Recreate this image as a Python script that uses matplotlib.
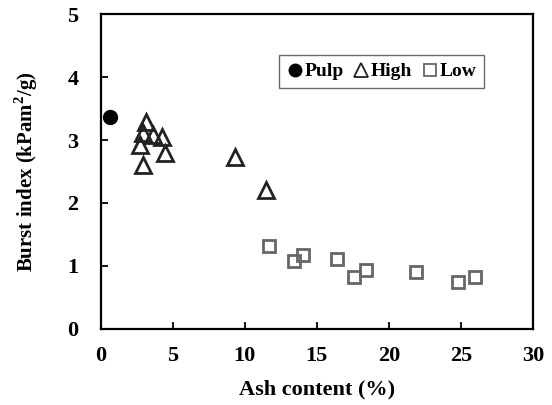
import matplotlib.pyplot as plt
from matplotlib.lines import Line2D

plt.rcParams['font.family'] = ['Liberation Serif', 'DejaVu Serif']
plt.rcParams['font.weight'] = 'bold'
plt.rcParams['mathtext.fontset'] = 'custom'
plt.rcParams['mathtext.rm'] = 'Liberation Serif:bold'
plt.rcParams['mathtext.bf'] = 'Liberation Serif:bold'

pulp_x = [0.65]
pulp_y = [3.37]

high_x = [3.15, 2.96, 3.65, 4.24, 2.73, 4.47, 2.96, 9.33, 11.48]
high_y = [3.29, 3.11, 3.08, 3.05, 2.92, 2.79, 2.60, 2.73, 2.20]

low_x = [11.7, 13.4, 14.07, 16.4, 17.6, 18.4, 21.9, 24.8, 26.0]
low_y = [1.32, 1.08, 1.17, 1.11, 0.83, 0.94, 0.90, 0.75, 0.83]

fig = plt.figure(figsize=(5.52, 4.05), dpi=100)
ax = fig.add_axes([0.1824, 0.1877, 0.7832, 0.7777])

ax.plot(pulp_x, pulp_y, 'o', color='black', ms=10)
ax.plot(high_x, high_y, '^', mfc='none', mec='#222222', mew=2.0, ms=11)
ax.plot(low_x, low_y, 's', mfc='none', mec='#666666', mew=2.0, ms=9)

ax.set_xlim(0, 30)
ax.set_ylim(0, 5)
ax.set_xticks([0, 5, 10, 15, 20, 25, 30])
ax.set_yticks([0, 1, 2, 3, 4, 5])
ax.tick_params(direction='in', length=5, width=1.3, labelsize=16)
ax.tick_params(axis='y', pad=16)
ax.tick_params(axis='x', pad=12)
for s in ax.spines.values():
    s.set_linewidth(1.6)

ax.set_xlabel('Ash content (%)', fontsize=16, fontweight='bold', labelpad=10)
ax.set_ylabel(r'Burst index (kPam$^{2}$/g)', fontsize=15, fontweight='bold', labelpad=20)

# legend handles drawn thinner than the data markers
handles = [
    Line2D([], [], ls='none', marker='o', color='black', ms=9),
    Line2D([], [], ls='none', marker='^', mfc='none', mec='#222222', mew=1.3, ms=10),
    Line2D([], [], ls='none', marker='s', mfc='none', mec='#666666', mew=1.3, ms=9),
]
leg = ax.legend(handles, ['Pulp', 'High', 'Low'], loc='upper right',
                bbox_to_anchor=(0.887, 0.870), ncol=3, borderaxespad=0,
                handlelength=0.8, handletextpad=0.1,
                columnspacing=0.5, frameon=True, fancybox=False, borderpad=0.4,
                prop={'weight': 'bold', 'size': 14})
leg.get_frame().set_edgecolor('#444444')
leg.get_frame().set_linewidth(1.0)

fig.savefig('out.png', dpi=100)
